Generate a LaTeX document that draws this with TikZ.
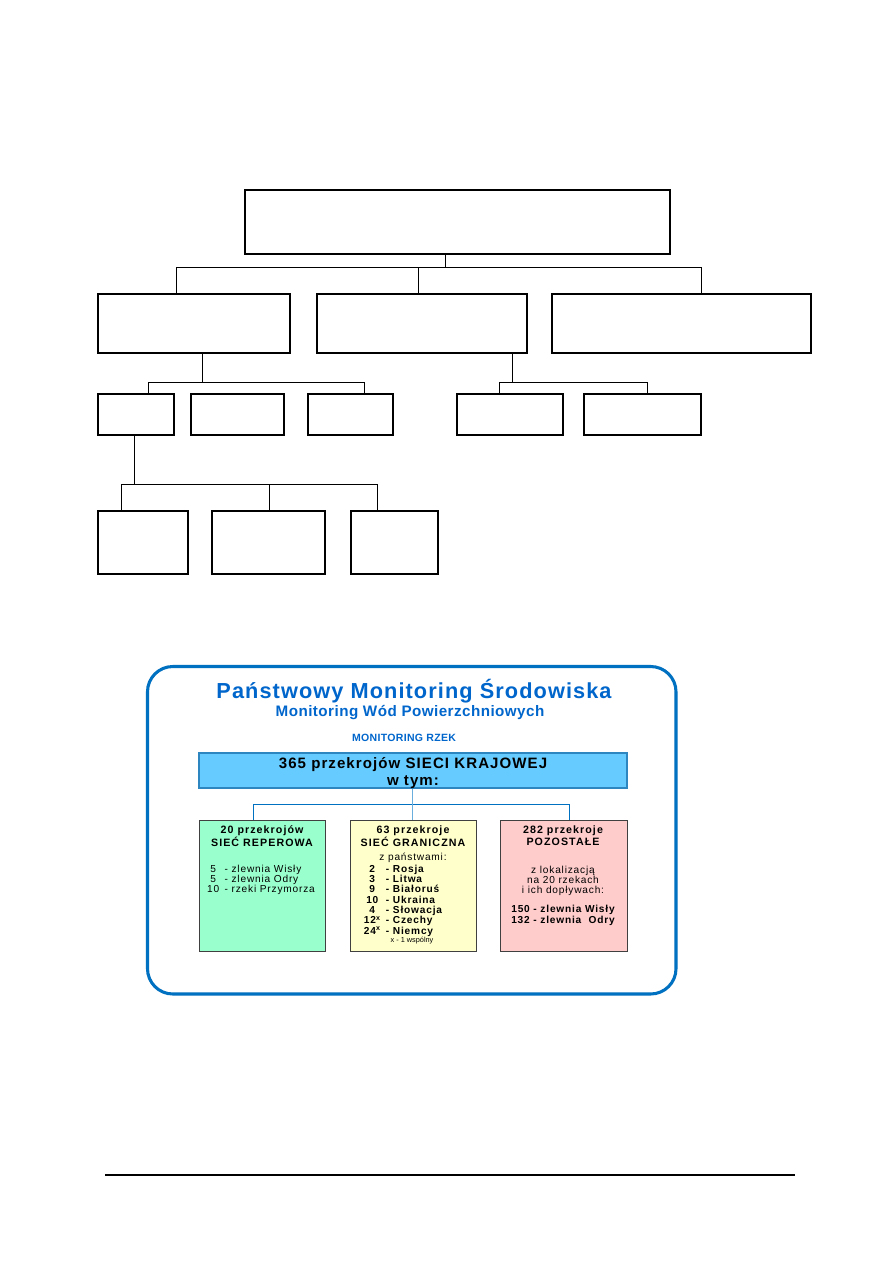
\documentclass[tikz,border=0pt]{standalone}
\usepackage{fontspec}
\setmainfont{Liberation Sans}
\newfontfamily\lsA[LetterSpace=10]{Liberation Sans}
\newfontfamily\lsB[LetterSpace=8]{Liberation Sans}
\newfontfamily\lsC[LetterSpace=3]{Liberation Sans}
\newfontfamily\lsT[LetterSpace=5]{Liberation Sans}
\newfontfamily\lsD[LetterSpace=7]{Liberation Sans}
\usetikzlibrary{fit}
\definecolor{frameblue}{HTML}{0070C0}
\definecolor{titleblue}{HTML}{0066CC}
\definecolor{skyfill}{HTML}{66CCFF}
\definecolor{skyline}{HTML}{2E86C1}
\definecolor{lightconn}{HTML}{6AAEDD}
\definecolor{greenfill}{HTML}{99FFCC}
\definecolor{yellowfill}{HTML}{FFFFCC}
\definecolor{pinkfill}{HTML}{FFCCCC}
\definecolor{boxline}{HTML}{404040}
\begin{document}
\begin{tikzpicture}[x=0.75pt,y=-0.75pt,
  obox/.style={draw=black, line width=0.9pt, inner sep=0pt},
  conn/.style={draw=black, line width=0.75pt},
  frame/.style={draw=frameblue, line width=2.3pt, rounded corners=19pt, inner sep=0pt},
  skybox/.style={draw=skyline, fill=skyfill, line width=0.8pt, inner sep=0pt},
  cbox/.style={draw=boxline, line width=0.6pt, inner sep=0pt},
  bconn/.style={draw=frameblue, line width=0.75pt},
  lconn/.style={draw=lightconn, line width=0.75pt},
  txt/.style={anchor=base, inner sep=0pt},
  hdr/.style={txt, font=\lsA\bfseries\fontsize{8pt}{8pt}\selectfont},
  body/.style={txt, font=\lsB\fontsize{7.6pt}{7.5pt}\selectfont},
  bodyb/.style={txt, font=\lsB\bfseries\fontsize{7.6pt}{7.5pt}\selectfont}
]
\fill[white] (0,0) rectangle (893,1263);
\useasboundingbox (0,0) rectangle (893,1263);

% ---------- upper organisation chart (empty boxes) ----------
\node[obox, fit={(245,190)(670,254)}] (top) {};
\node[obox, fit={(98,294)(290,353)}] (a) {};
\node[obox, fit={(317,294)(527,353)}] (b) {};
\node[obox, fit={(552,294)(811,353)}] (c) {};
\node[obox, fit={(98,394)(174,435)}] (a1) {};
\node[obox, fit={(191,394)(284,435)}] (a2) {};
\node[obox, fit={(308,394)(393,435)}] (a3) {};
\node[obox, fit={(457,394)(563,435)}] (b1) {};
\node[obox, fit={(584,394)(701,435)}] (b2) {};
\node[obox, fit={(98,511)(188,574)}] (d1) {};
\node[obox, fit={(212,511)(325,574)}] (d2) {};
\node[obox, fit={(351,511)(438,574)}] (d3) {};

\coordinate (j0) at (445,267);
\coordinate (j0a) at (176,267);
\coordinate (j0b) at (418,267);
\coordinate (j0c) at (701,267);
\draw[conn] (top.south -| j0) -- (j0);
\draw[conn] (j0a) -- (j0c);
\draw[conn] (j0a) -- (j0a |- a.north);
\draw[conn] (j0b) -- (j0b |- b.north);
\draw[conn] (j0c) -- (j0c |- c.north);

\coordinate (j1) at (202.5,382);
\coordinate (j1a) at (148.5,382);
\coordinate (j1c) at (364,382);
\draw[conn] (a.south -| j1) -- (j1);
\draw[conn] (j1a) -- (j1c);
\draw[conn] (j1a) -- (j1a |- a1.north);
\draw[conn] (j1c) -- (j1c |- a3.north);

\coordinate (j2) at (512,382);
\coordinate (j2a) at (499,382);
\coordinate (j2b) at (647,382);
\draw[conn] (b.south -| j2) -- (j2);
\draw[conn] (j2a) -- (j2b);
\draw[conn] (j2a) -- (j2a |- b1.north);
\draw[conn] (j2b) -- (j2b |- b2.north);

\coordinate (j3) at (134,484);
\coordinate (j3a) at (121,484);
\coordinate (j3b) at (269.5,484);
\coordinate (j3c) at (377,484);
\draw[conn] (a1.south -| j3) -- (j3);
\draw[conn] (j3a) -- (j3c);
\draw[conn] (j3a) -- (j3a |- d1.north);
\draw[conn] (j3b) -- (j3b |- d2.north);
\draw[conn] (j3c) -- (j3c |- d3.north);

% ---------- lower picture ----------
\node[frame, fit={(147.5,666.5)(676,994)}] (frm) {};

\node[txt, text=titleblue, font=\lsT\bfseries\fontsize{16.3pt}{18pt}\selectfont] (t1) at (414,698) {Państwowy Monitoring Środowiska};
\node[txt, text=titleblue, font=\lsC\bfseries\fontsize{11.4pt}{12pt}\selectfont] (t2) at (410,716) {Monitoring Wód Powierzchniowych};
\node[txt, text=titleblue, font=\lsC\bfseries\fontsize{7.9pt}{8pt}\selectfont] (t3) at (404,741) {MONITORING RZEK};

\node[skybox, fit={(199,753)(627,788)}] (sk) {};
\node[txt, font=\lsD\bfseries\fontsize{11.3pt}{12pt}\selectfont] (sk1) at (413,768.5) {365 przekrojów SIECI KRAJOWEJ};
\node[txt, font=\lsD\bfseries\fontsize{11.3pt}{12pt}\selectfont] (sk2) at (413,785) {w tym:};

\node[cbox, fill=greenfill, fit={(199,820)(325,951)}] (rep) {};
\node[cbox, fill=yellowfill, fit={(350,820)(476,951)}] (gra) {};
\node[cbox, fill=pinkfill, fit={(500,820)(627,951)}] (poz) {};

\coordinate (k0) at (412,804);
\coordinate (k0a) at (253,804);
\coordinate (k0c) at (569,804);
\draw[bconn] (k0a) -- (k0c);
\draw[bconn] (k0a) -- (k0a |- rep.north);
\draw[bconn] (k0c) -- (k0c |- poz.north);
\draw[lconn] (sk.south -| k0) -- (k0 |- gra.north);

% green box
\node[hdr] (g1) at (262,833) {20 przekrojów};
\node[hdr] (g2) at (262,846) {SIEĆ REPEROWA};
\node[body] (g3) at (261,872) {\begin{tabular}[t]{@{}c@{\hspace{4pt}}l@{}}5 & - zlewnia Wisły\\5 & - zlewnia Odry\\10 & - rzeki Przymorza\end{tabular}};

% yellow box
\node[hdr] (y1) at (413,833) {63 przekroje};
\node[hdr] (y2) at (413,846) {SIEĆ GRANICZNA};
\node[body] (y3) at (413,860.5) {z państwami:};
\node[bodyb] (y4) at (403,872) {\begin{tabular}[t]{@{}c@{\hspace{4pt}}l@{}}2 & - Rosja\\3 & - Litwa\\9 & - Białoruś\\10 & - Ukraina\\4 & - Słowacja\\12\textsuperscript{x} & - Czechy\\24\textsuperscript{x} & - Niemcy\end{tabular}};
\node[txt, font=\fontsize{5.5pt}{6pt}\selectfont] (y5) at (412,942) {x - 1 wspólny};

% pink box
\node[hdr] (p1) at (563,833) {282 przekroje};
\node[hdr] (p2) at (563,845) {POZOSTAŁE};
\node[body] (p3) at (563,873) {z lokalizacją};
\node[body] (p4) at (563,883) {na 20 rzekach};
\node[body] (p5) at (563,893) {i ich dopływach:};
\node[bodyb] (p6) at (563,912.5) {150 - zlewnia Wisły};
\node[bodyb] (p7) at (563,923) {132 - zlewnia\ \ Odry};

% footer rule
\coordinate (f1) at (105,1175);
\coordinate (f2) at (795,1175);
\draw[line width=1.1pt] (f1) -- (f2);
\end{tikzpicture}
\end{document}
